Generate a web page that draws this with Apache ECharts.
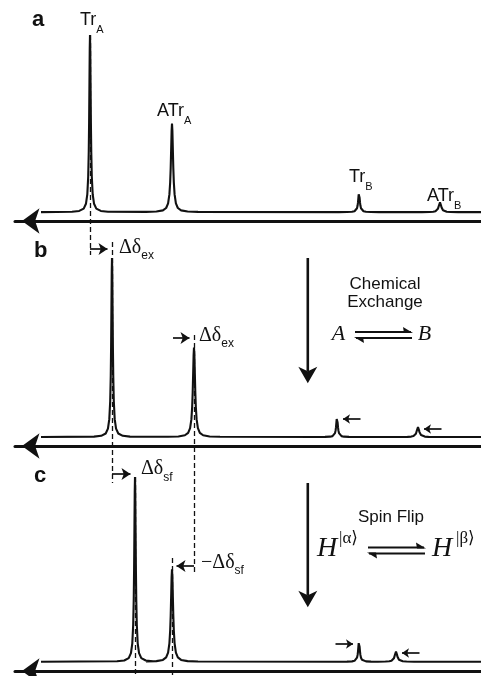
<!DOCTYPE html>
<html>
<head>
<meta charset="utf-8">
<script src="https://cdn.jsdelivr.net/npm/echarts@6/dist/echarts.min.js"></script>
<style>
  html, body { margin: 0; padding: 0; background: #fff; }
  #chart { width: 481px; height: 676px; }
</style>
</head>
<body>
<div id="chart"></div>
<script>
// ---- spectral data -------------------------------------------------------
// Peak order: Tr_A, ATr_A, Tr_B, ATr_B (frequency units, increasing to the right)
const peakNames   = ['Tr', 'ATr', 'Tr', 'ATr'];
const peakSubs    = ['A', 'A', 'B', 'B'];
const shiftsFree  = [75, 157, 344, 425];   // a: no exchange
const shiftsExch  = [97, 179, 322, 403];   // b: chemical exchange A <-> B
const shiftsFlip  = [120, 157, 344, 381];  // c: exchange plus spin flip
const peakHeights = [1.0, 0.5, 0.11, 0.055];
const halfWidths  = [0.9, 1.3, 1.0, 1.5];
// Lorentzian lineshape, sampled at multiples of the half-width
const shapeU = [-20, -12, -7, -4.5, -3, -2, -1.4, -1, -0.6, -0.3, 0, 0.3, 0.6, 1, 1.4, 2, 3, 4.5, 7, 12, 20];
const shapeF = [0.0025, 0.0069, 0.02, 0.047, 0.1, 0.2, 0.338, 0.5, 0.735, 0.917, 1, 0.917, 0.735, 0.5, 0.338, 0.2, 0.1, 0.047, 0.02, 0.0069, 0.0025];
const spectrumRange = [26, 466];
const axisRange = [0, 466];
const panelLetters = ['a', 'b', 'c'];

// ---- layout ----------------------------------------------------------------
const INK = '#111';
const panelGrids = [
  { left: 15, right: 0, top: 35, height: 186 },
  { left: 15, right: 0, top: 258, height: 188 },
  { left: 15, right: 0, top: 477, height: 194 }
];
const overlayGrid = { left: 15, right: 0, top: 0, height: 676 };

function spectrum(shifts) {
  const order = shifts.map((s, i) => i).sort((i, j) => shifts[i] - shifts[j]);
  const pts = [[spectrumRange[0], 0]];
  order.forEach(i => {
    shapeU.forEach((u, k) => {
      pts.push([shifts[i] + u * halfWidths[i], peakHeights[i] * shapeF[k]]);
    });
  });
  pts.push([spectrumRange[1], 0]);
  return pts;
}

// arrow from one line position to another; the tip stops `gap` short of the target
function arrow(from, to, row, head, gap, lead) {
  const dir = Math.sign(to - from);
  const start = from - dir * lead;
  const tip = to - dir * gap;
  return { coords: [[start, row], [tip - dir * head / 2, row]] };
}

const guideLines = [
  [shiftsFree[0], 35, 255],
  [shiftsExch[0], 242, 483],
  [shiftsExch[1], 335, 572],
  [shiftsFlip[0], 477, 676],
  [shiftsFlip[1], 558, 676]
].map(g => ({ coords: [[g[0], g[1]], [g[0], g[2]]] }));

const DELTA_HEAD = 9, SMALL_HEAD = 7;
const deltaArrows = [
  arrow(shiftsFree[0], shiftsExch[0], 249, DELTA_HEAD, 0, 0),
  arrow(shiftsFree[1] + 1, shiftsExch[1], 338, DELTA_HEAD, 0, 0),
  arrow(shiftsExch[0], shiftsFlip[0], 474, DELTA_HEAD, 0, 0),
  arrow(shiftsExch[1], shiftsFlip[1], 566, DELTA_HEAD, 0, 0)
];
const smallArrows = [
  arrow(shiftsFree[2], shiftsExch[2], 419, SMALL_HEAD, 2.5, 1.5),
  arrow(shiftsFree[3], shiftsExch[3], 429, SMALL_HEAD, 2.5, 1.5),
  arrow(shiftsExch[2], shiftsFlip[2], 644, SMALL_HEAD, 2.5, 1.5),
  arrow(shiftsExch[3], shiftsFlip[3], 653, SMALL_HEAD, 2.5, 1.5)
];

const grids = panelGrids.concat([overlayGrid]);
const xAxes = grids.map((g, i) => ({
  gridIndex: i, type: 'value', min: axisRange[0], max: axisRange[1],
  show: i < 3,
  axisLine: {
    show: true, onZero: false,
    symbol: ['arrow', 'none'], symbolSize: [19, 17.5], symbolOffset: [7, 0],
    lineStyle: { color: INK, width: 3 }
  },
  axisTick: { show: false }, axisLabel: { show: false }, splitLine: { show: false }
}));
const yAxes = grids.map((g, i) => i < 3
  ? { gridIndex: i, type: 'value', min: -0.05, max: 1, show: false }
  : { gridIndex: i, type: 'value', min: 0, max: 676, inverse: true, show: false });

const panelShifts = [shiftsFree, shiftsExch, shiftsFlip];
const series = panelShifts.map((s, i) => ({
  type: 'line', name: 'panel ' + panelLetters[i],
  xAxisIndex: i, yAxisIndex: i,
  data: spectrum(s), symbol: 'none', clip: false, z: 3,
  lineStyle: { color: INK, width: 2.1 }
}));
series.push({
  type: 'lines', coordinateSystem: 'cartesian2d', xAxisIndex: 3, yAxisIndex: 3,
  data: guideLines, symbol: 'none', z: 1, silent: true,
  lineStyle: { color: INK, width: 1.3, type: [5, 3], opacity: 1 }
});
series.push({
  type: 'lines', coordinateSystem: 'cartesian2d', xAxisIndex: 3, yAxisIndex: 3,
  data: deltaArrows, symbol: ['none', 'arrow'], symbolSize: DELTA_HEAD, z: 4, silent: true,
  lineStyle: { color: INK, width: 1.7, opacity: 1 }
});
series.push({
  type: 'lines', coordinateSystem: 'cartesian2d', xAxisIndex: 3, yAxisIndex: 3,
  data: smallArrows, symbol: ['none', 'arrow'], symbolSize: SMALL_HEAD, z: 4, silent: true,
  lineStyle: { color: INK, width: 1.7, opacity: 1 }
});

const chart = echarts.init(document.getElementById('chart'), null, { renderer: 'canvas' });
chart.setOption({
  animation: false,
  backgroundColor: '#fff',
  grid: grids,
  xAxis: xAxes,
  yAxis: yAxes,
  series: series
});

// ---- text and schematic arrows --------------------------------------------
const SANS = '"Liberation Sans", Arial, Helvetica, sans-serif';
const SERIF = '"Liberation Serif", "Times New Roman", "DejaVu Serif", serif';
const px = v => chart.convertToPixel({ xAxisIndex: 3 }, v);

function subText(x, y, main, sub, mainFont, subFont, subDrop) {
  return {
    type: 'text', x: x, y: y, silent: true,
    style: {
      text: '{m|' + main + '}{s|' + sub + '}',
      align: 'left', verticalAlign: 'middle',
      rich: {
        m: { font: mainFont, fill: INK, verticalAlign: 'middle' },
        s: { font: subFont, fill: INK, verticalAlign: 'middle', padding: [subDrop * 2, 0, 0, 0] }
      }
    }
  };
}
function plainText(x, y, text, font, align) {
  return { type: 'text', x: x, y: y, silent: true,
    style: { text: text, font: font, fill: INK, align: align || 'left', verticalAlign: 'middle' } };
}
function downArrow(x, y1, y2) {
  return [
    { type: 'line', silent: true, shape: { x1: x, y1: y1, x2: x, y2: y2 - 12 },
      style: { stroke: INK, lineWidth: 2.6 } },
    { type: 'polygon', silent: true,
      shape: { points: [[x - 9.5, y2 - 16.5], [x, y2], [x + 9.5, y2 - 16.5], [x, y2 - 12]] },
      style: { fill: INK } }
  ];
}
// equilibrium sign: upper harpoon points right, lower harpoon points left
function harpoons(x1, x2, yTop, yBot) {
  return [
    { type: 'line', silent: true, shape: { x1: x1, y1: yTop, x2: x2 - 1, y2: yTop }, style: { stroke: INK, lineWidth: 1.8 } },
    { type: 'polygon', silent: true,
      shape: { points: [[x2 + 1, yTop + 0.9], [x2 - 9, yTop - 5], [x2 - 8, yTop + 0.9]] }, style: { fill: INK } },
    { type: 'line', silent: true, shape: { x1: x1 + 1, y1: yBot, x2: x2, y2: yBot }, style: { stroke: INK, lineWidth: 1.8 } },
    { type: 'polygon', silent: true,
      shape: { points: [[x1 - 1, yBot - 0.9], [x1 + 9, yBot + 5], [x1 + 8, yBot - 0.9]] }, style: { fill: INK } }
  ];
}

const LABEL = '18px ' + SANS, LABEL_SUB = '11px ' + SANS;
const DELTA = '20px ' + SERIF, DELTA_SUB = '12px ' + SANS;
const labelRows = [20, 111.5, 177, 196];
const labelLead = [-10, -15, -10, -13];

const graphics = [];
panelLetters.forEach((l, i) => {
  graphics.push(plainText(i === 0 ? 32 : 34, [19.5, 250.5, 475.5][i], l, 'bold 22px ' + SANS));
});
shiftsFree.forEach((s, i) => {
  graphics.push(subText(px(s) + labelLead[i], labelRows[i], peakNames[i], peakSubs[i], LABEL, LABEL_SUB, 9.5));
});
graphics.push(subText(px(shiftsExch[0]) + 7, 247.5, '\u0394\u03b4', 'ex', DELTA, DELTA_SUB, 8));
graphics.push(subText(px(shiftsExch[1]) + 5, 336, '\u0394\u03b4', 'ex', DELTA, DELTA_SUB, 8));
graphics.push(subText(px(shiftsFlip[0]) + 6, 469, '\u0394\u03b4', 'sf', DELTA, DELTA_SUB, 8.5));
graphics.push(subText(px(shiftsExch[1]) + 7, 562.5, '\u2212\u0394\u03b4', 'sf', DELTA, DELTA_SUB, 8.5));

graphics.push(plainText(385, 284, 'Chemical', '17px ' + SANS, 'center'));
graphics.push(plainText(385, 302, 'Exchange', '17px ' + SANS, 'center'));
graphics.push(plainText(338.5, 334.5, 'A', 'italic 22px ' + SERIF, 'center'));
graphics.push(plainText(424.5, 334.5, 'B', 'italic 22px ' + SERIF, 'center'));
graphics.push(...harpoons(355, 412, 332, 338));

graphics.push(plainText(391, 517, 'Spin Flip', '17px ' + SANS, 'center'));
graphics.push(plainText(317, 549, 'H', 'italic 28px ' + SERIF));
graphics.push(plainText(339, 539, '|\u03b1\u27e9', '17px ' + SERIF));
graphics.push(plainText(432, 549, 'H', 'italic 28px ' + SERIF));
graphics.push(plainText(456, 539, '|\u03b2\u27e9', '17px ' + SERIF));
graphics.push(...harpoons(368, 425, 547.5, 553.5));

graphics.push(...downArrow(307.8, 258, 383.3));
graphics.push(...downArrow(307.8, 483, 607.3));

chart.setOption({ graphic: graphics });
</script>
</body>
</html>
